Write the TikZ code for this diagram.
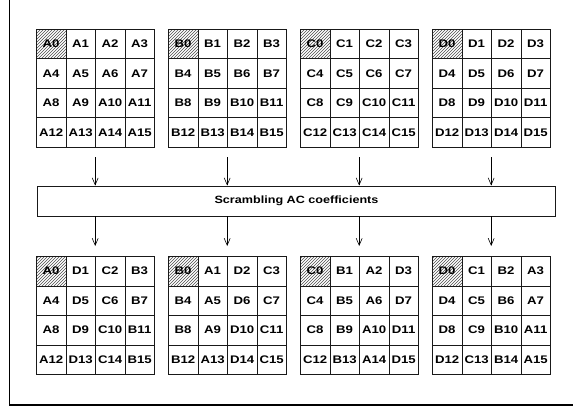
\documentclass[tikz,border=0pt]{standalone}
\usepackage{fontspec}
\setmainfont[FakeStretch=1.2,BoldFeatures={FakeStretch=1.2}]{Liberation Sans}
\usetikzlibrary{patterns,arrows.meta}
\tikzset{
  lbl/.style={font=\bfseries\fontsize{11}{13}\selectfont},
  cell/.style={lbl, draw=black!90, line width=0.8pt, minimum size=29.5pt, inner sep=0pt, anchor=north west},
  dccell/.style={cell, pattern=north east lines, pattern color=black!70},
  gridbox/.style={minimum size=118pt, inner sep=0pt, anchor=north west},
  flow/.style={line width=0.6pt, -{Straight Barb[length=7pt,width=6pt]}},
  procbox/.style={font=\bfseries\fontsize{10.5}{12}\selectfont, draw=black!90, line width=0.8pt, minimum width=518pt, minimum height=30pt, inner sep=0pt},
  frameline/.style={line width=1.6pt}
}
\begin{document}
\begin{tikzpicture}[x=1pt,y=-1pt]
\useasboundingbox (0,0) rectangle (573,409);
\draw[frameline] (9.5,0) -- (9.5,405) -- (573,405);
\foreach \gname/\gx/\gy/\labs in {
  tA/36/29/{A0,A1,A2,A3,A4,A5,A6,A7,A8,A9,A10,A11,A12,A13,A14,A15},
  tB/168/29/{B0,B1,B2,B3,B4,B5,B6,B7,B8,B9,B10,B11,B12,B13,B14,B15},
  tC/300/29/{C0,C1,C2,C3,C4,C5,C6,C7,C8,C9,C10,C11,C12,C13,C14,C15},
  tD/432/29/{D0,D1,D2,D3,D4,D5,D6,D7,D8,D9,D10,D11,D12,D13,D14,D15},
  bA/36/256/{A0,D1,C2,B3,A4,D5,C6,B7,A8,D9,C10,B11,A12,D13,C14,B15},
  bB/168/256/{B0,A1,D2,C3,B4,A5,D6,C7,B8,A9,D10,C11,B12,A13,D14,C15},
  bC/300/256/{C0,B1,A2,D3,C4,B5,A6,D7,C8,B9,A10,D11,C12,B13,A14,D15},
  bD/432/256/{D0,C1,B2,A3,D4,C5,B6,A7,D8,C9,B10,A11,D12,C13,B14,A15}}{
  \node[gridbox] (\gname) at (\gx,\gy) {};
  \foreach \l [count=\i from 0] in \labs {
    \pgfmathtruncatemacro\c{mod(\i,4)}
    \pgfmathtruncatemacro\r{div(\i,4)}
    \ifnum\i=0 \def\st{dccell}\else\def\st{cell}\fi
    \node[\st] (\gname-\i) at (\gx+\c*29.5,\gy+\r*29.5) {\l};
  }
}
\node[procbox] (box) at (296.5,201) {Scrambling AC coefficients};
\foreach \g in {A,B,C,D}{
  \draw[flow, shorten <=10pt] (t\g.south) -- (t\g.south |- box.north);
  \draw[flow, shorten >=10pt] (box.south -| b\g.north) -- (b\g.north);
}
\end{tikzpicture}
\end{document}
